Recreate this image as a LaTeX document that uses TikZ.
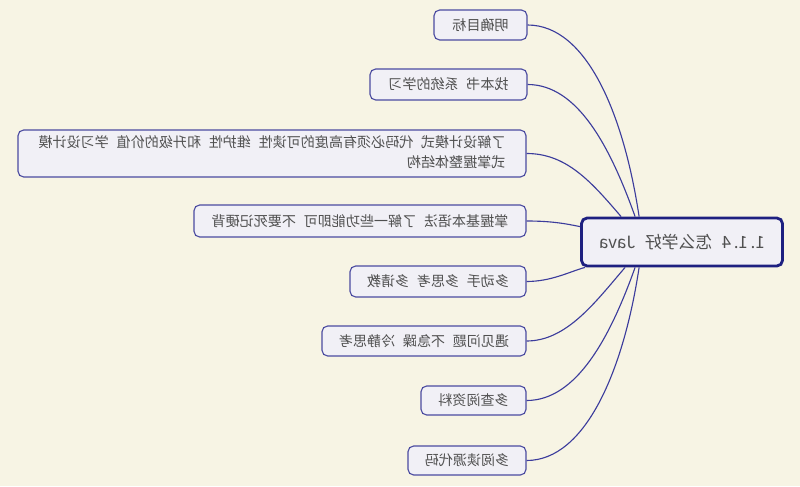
\documentclass[tikz,border=0pt]{standalone}
\usepackage{fontspec}
\newfontfamily\cjk{Noto Sans CJK SC}
\usepackage{graphicx}
\usepackage{xcolor}
\definecolor{paper}{HTML}{F7F4E4}
\definecolor{boxfill}{HTML}{F1F0F6}
\definecolor{boxline}{HTML}{4B4BA0}
\definecolor{mainline}{HTML}{1E2080}
\definecolor{ink}{HTML}{505050}
\definecolor{branchcol}{HTML}{3C3C9C}
\usepackage{tikz}
\usetikzlibrary{calc}
\newdimen\px \px=0.025cm
\newcommand{\mirror}[1]{\reflectbox{#1}}
\newcommand{\gap}{\hspace{0.55em}}

\begin{document}
\begin{tikzpicture}[x=0.025cm,y=-0.025cm,
    topic/.style={draw=boxline,fill=boxfill,line width=0.8pt,rounded corners=4pt,
      text=ink,inner sep=0pt,font=\cjk\fontsize{10}{14}\selectfont},
    central/.style={draw=mainline,fill=boxfill,line width=2pt,rounded corners=4pt,
      text=ink,inner sep=0pt,font=\cjk\fontsize{12}{14}\selectfont},
    branch/.style={draw=branchcol,line width=0.8pt}]
  \fill[paper] (0,0) rectangle (800,486);

  \node[central,minimum width=201\px,minimum height=48\px](main) at (682,242) {\mirror{1.\,1.\,4\gap 怎么学好\gap Java}};

  \node[topic,minimum width=93\px,minimum height=30\px](goal) at (480.5,25) {\mirror{明确目标}};
  \node[topic,minimum width=157\px,minimum height=31\px](book) at (448.5,84.5) {\mirror{找本书\gap 系统的学习}};
  \node[topic,minimum width=508\px,minimum height=47\px](pattern) at (272,153.5)
    {\mirror{\begin{tabular}{@{}l@{}}了解设计模式\gap 代码必须有高度的可读性\gap 维护性\gap 和升级的价值\gap 学习设计模\\式掌握整体结构\end{tabular}}};
  \node[topic,minimum width=332\px,minimum height=32\px](syntax) at (360,221) {\mirror{掌握基本语法\gap 了解一些功能即可\gap 不要死记硬背}};
  \node[topic,minimum width=176\px,minimum height=31\px](practice) at (438,281.5) {\mirror{多动手\gap 多思考\gap 多请教}};
  \node[topic,minimum width=204\px,minimum height=30\px](calm) at (424,341) {\mirror{遇见问题\gap 不急躁\gap 冷静思考}};
  \node[topic,minimum width=105\px,minimum height=29\px](docs) at (473.5,400.5) {\mirror{多查阅资料}};
  \node[topic,minimum width=118\px,minimum height=29\px](source) at (467,460.5) {\mirror{多阅读源代码}};

  \draw[branch] (goal.east) .. controls +(60,0) and +(-15,-100) .. ($(main.north west)+(59,0)$);
  \draw[branch] (book.east) .. controls +(50,0) and +(-25,-70) .. ($(main.north west)+(55,0)$);
  \draw[branch] (pattern.east) .. controls +(40,0) and +(-30,-35) .. ($(main.north west)+(41,0)$);
  \draw[branch] (syntax.east) .. controls +(25,0) and +(-15,-3) .. ($(main.north west)+(0,10)$);
  \draw[branch] (practice.east) .. controls +(25,0) and +(-15,4) .. ($(main.south west)+(5,0)$);
  \draw[branch] (calm.east) .. controls +(40,0) and +(-30,35) .. ($(main.south west)+(45,0)$);
  \draw[branch] (docs.east) .. controls +(50,0) and +(-25,70) .. ($(main.south west)+(55,0)$);
  \draw[branch] (source.east) .. controls +(60,0) and +(-15,100) .. ($(main.south west)+(59,0)$);
\end{tikzpicture}
\end{document}
